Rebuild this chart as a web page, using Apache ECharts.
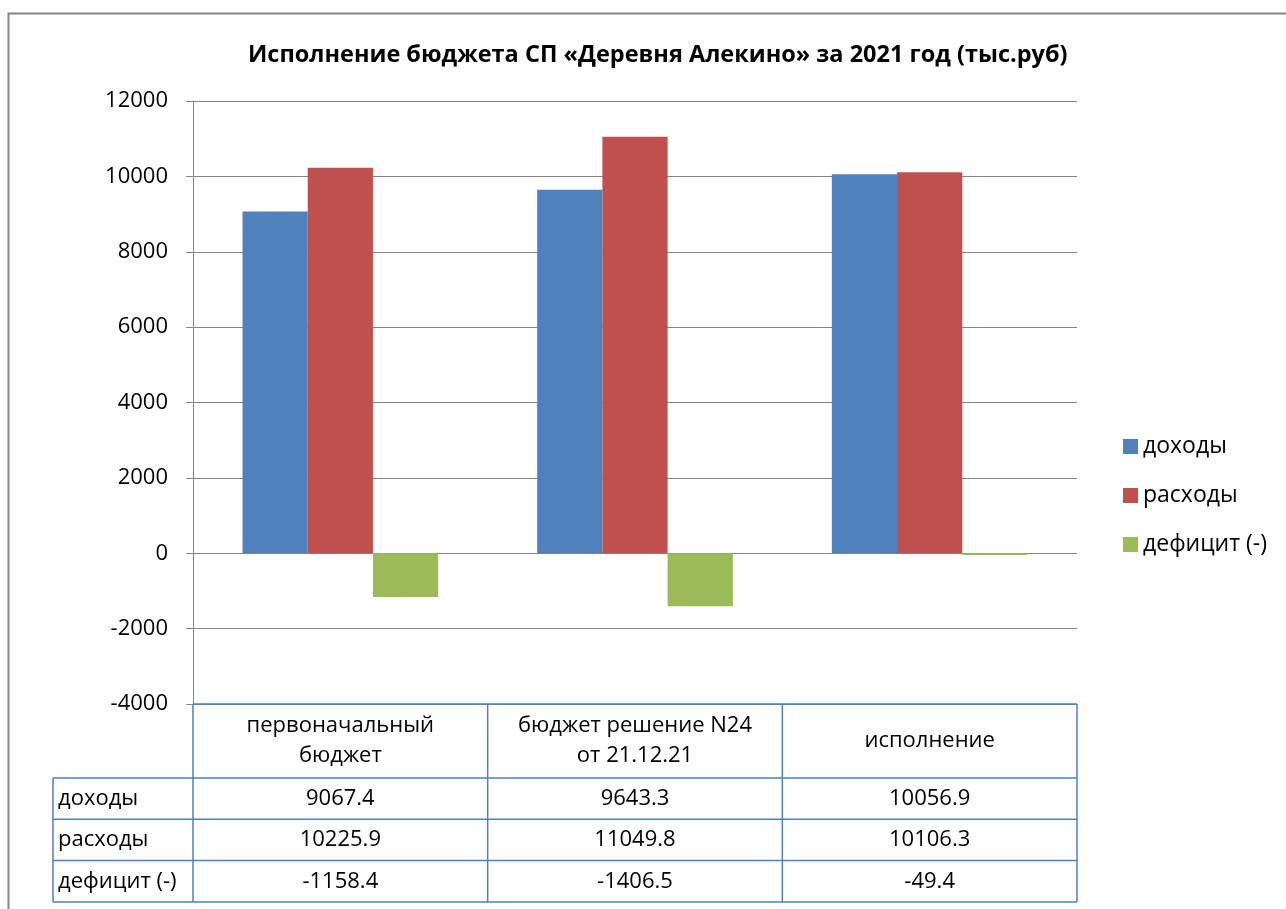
<!DOCTYPE html>
<html><head><meta charset="utf-8">
<script src="https://cdn.jsdelivr.net/npm/echarts@6/dist/echarts.min.js"></script>
<style>html,body{margin:0;padding:0;background:#fff}#c{width:1286px;height:909px}</style>
</head><body><div id="c"></div>
<script>
const categories = ['первоначальный\nбюджет', 'бюджет решение N24\nот 21.12.21', 'исполнение'];
const seriesNames = ['доходы', 'расходы', 'дефицит (-)'];
const incomes = [9067.4, 9643.3, 10056.9];
const expenses = [10225.9, 11049.8, 10106.3];
const deficit = [-1158.4, -1406.5, -49.4];
const colors = ['#4F81BD', '#C0504D', '#9BBB59'];
const yTicks = { min: -4000, max: 12000, interval: 2000 };

const FONT = 'Open Sans';
const FS = 22;
const chart = echarts.init(document.getElementById('c'), null, { renderer: 'canvas' });
const allValues = [incomes, expenses, deficit];

const option = {
  backgroundColor: '#fff',
  animation: false,
  title: {
    text: 'Исполнение бюджета СП «Деревня Алекино» за 2021 год (тыс.руб)',
    left: 243, top: 38,
    textStyle: { fontFamily: FONT, fontWeight: 'bold', fontSize: 23.5, color: '#000' }
  },
  legend: {
    orient: 'vertical', left: 1118, top: 430, itemGap: 26,
    itemWidth: 15, itemHeight: 15, icon: 'rect',
    textStyle: { fontFamily: FONT, fontSize: 23, color: '#000' },
    data: seriesNames
  },
  grid: { left: 193, right: 209, top: 101, bottom: 205, containLabel: false },
  xAxis: {
    type: 'category', data: categories, position: 'bottom',
    axisLine: { show: false, onZero: false }, axisTick: { show: false }, axisLabel: { show: false }
  },
  yAxis: {
    type: 'value', min: yTicks.min, max: yTicks.max, interval: yTicks.interval,
    axisLine: { show: true, lineStyle: { color: '#868686', width: 1 } },
    axisTick: { show: true, length: 7, lineStyle: { color: '#868686' } },
    splitLine: { show: true, lineStyle: { color: '#868686', width: 1 } },
    axisLabel: { fontFamily: FONT, fontSize: FS, color: '#000', margin: 25, formatter: v => String(v) }
  },
  series: seriesNames.map((n, i) => ({
    name: n, type: 'bar', data: allValues[i], barGap: '0%', barCategoryGap: '33.6%',
    itemStyle: { color: colors[i] }
  }))
};
chart.setOption(option);

function buildTable() {
  const g = [];
  const lineColor = '#4F81BD';
  const x0 = chart.convertToPixel({ xAxisIndex: 0 }, 0);
  const x1 = chart.convertToPixel({ xAxisIndex: 0 }, 1);
  const bw = x1 - x0;
  const left = x0 - bw / 2;
  const right = left + bw * categories.length;
  const top = chart.convertToPixel({ yAxisIndex: 0 }, yTicks.min);
  const headerH = 74, rowH = 41.3;
  const labelLeft = 53;
  const rows = [incomes, expenses, deficit];
  const bottom = top + headerH + rowH * rows.length;
  const L = (x1_, y1_, x2_, y2_) => g.push({ type: 'line', shape: { x1: x1_, y1: y1_, x2: x2_, y2: y2_ }, style: { stroke: lineColor, lineWidth: 1.5 }, z: 10 });
  L(left, top, right, top);
  for (let r = 0; r <= rows.length; r++) {
    const y = top + headerH + rowH * r;
    L(labelLeft, y, right, y);
  }
  L(labelLeft, top + headerH, labelLeft, bottom);
  for (let c = 0; c <= categories.length; c++) {
    const x = left + bw * c;
    L(x, top, x, bottom);
  }
  categories.forEach((cat, c) => {
    g.push({ type: 'text', x: left + bw * (c + 0.5), y: top + headerH / 2, style: { text: cat, fontFamily: FONT, fontSize: FS, fill: '#000', align: 'center', verticalAlign: 'middle', lineHeight: 30 }, z: 11 });
  });
  rows.forEach((vals, r) => {
    const yc = top + headerH + rowH * (r + 0.5);
    g.push({ type: 'text', x: labelLeft + 5, y: yc, style: { text: seriesNames[r], fontFamily: FONT, fontSize: FS, fill: '#000', align: 'left', verticalAlign: 'middle' }, z: 11 });
    vals.forEach((v, c) => {
      g.push({ type: 'text', x: left + bw * (c + 0.5), y: yc, style: { text: v.toFixed(1), fontFamily: FONT, fontSize: FS, fill: '#000', align: 'center', verticalAlign: 'middle' }, z: 11 });
    });
  });
  g.push({ type: 'polyline', shape: { points: [[8.5, 909], [8.5, 13.5], [1286, 13.5]] }, style: { stroke: '#868686', lineWidth: 2, fill: null }, z: 12 });
  chart.setOption({ graphic: { elements: g } });
}
buildTable();
</script></body></html>
